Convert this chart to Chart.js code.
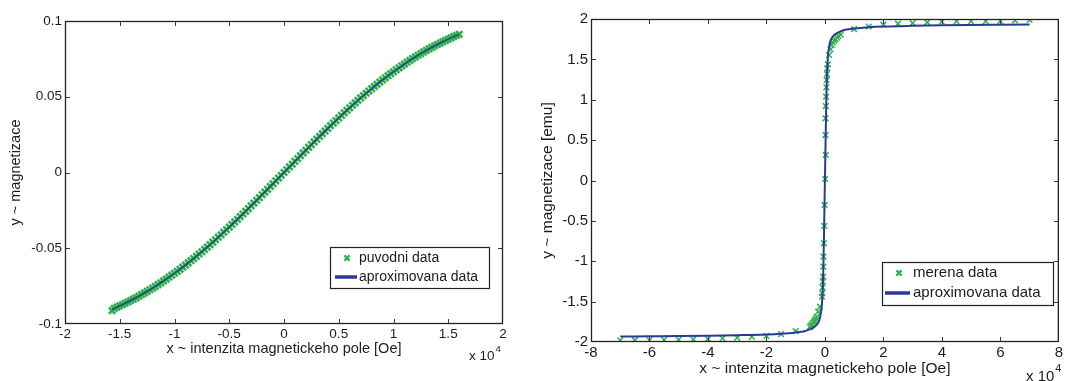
<!DOCTYPE html>
<html>
<head>
<meta charset="utf-8">
<script src="https://cdn.jsdelivr.net/npm/chart.js@4.4.1/dist/chart.umd.min.js"></script>
<style>
  html, body { margin: 0; padding: 0; background: #fff; width: 1065px; height: 381px; overflow: hidden; }
  .panel { position: absolute; top: 0; }
</style>
</head>
<body>
<div class="panel" style="left:0"><canvas id="left" width="530" height="381"></canvas></div>
<div class="panel" style="left:530px"><canvas id="right" width="535" height="381"></canvas></div>
<script>
// ---- left panel: original data and its approximation (field in Oe) ----
const leftFieldOe = [-15700,-15500,-15250,-15000,-14750,-14500,-14250,-14000,-13750,-13500,-13250,-13000,-12750,-12500,-12250,-12000,-11750,-11500,-11250,-11000,-10750,-10500,-10250,-10000,
  -9750,-9500,-9250,-9000,-8750,-8500,-8250,-8000,-7750,-7500,-7250,-7000,-6750,-6500,-6250,-6000,-5750,-5500,-5250,-5000,
  -4750,-4500,-4250,-4000,-3750,-3500,-3250,-3000,-2750,-2500,-2250,-2000,-1750,-1500,-1250,-1000,-750,-500,-250,0,
  250,500,750,1000,1250,1500,1750,2000,2250,2500,2750,3000,3250,3500,3750,4000,4250,4500,4750,5000,
  5250,5500,5750,6000,6250,6500,6750,7000,7250,7500,7750,8000,8250,8500,8750,9000,9250,9500,9750,10000,
  10250,10500,10750,11000,11250,11500,11750,12000,12250,12500,12750,13000,13250,13500,13750,14000,14250,14500,14750,15000,15250,15500,15750,16000];
const leftMag = [-0.0912,-0.0897,-0.0889,-0.0880,-0.0872,-0.0863,-0.0854,-0.0845,-0.0836,-0.0826,-0.0816,-0.0806,-0.0796,-0.0785,-0.0774,-0.0763,-0.0752,-0.0740,-0.0728,-0.0716,-0.0704,-0.0691,-0.0678,-0.0665,
  -0.0652,-0.0639,-0.0625,-0.0611,-0.0597,-0.0582,-0.0568,-0.0553,-0.0538,-0.0523,-0.0508,-0.0492,-0.0476,-0.0460,-0.0444,-0.0427,-0.0411,-0.0394,-0.0377,-0.0360,
  -0.0343,-0.0326,-0.0309,-0.0291,-0.0274,-0.0256,-0.0238,-0.0220,-0.0202,-0.0184,-0.0166,-0.0147,-0.0129,-0.0111,-0.0092,-0.0074,-0.0055,-0.0037,-0.0018,0,
  0.0018,0.0037,0.0055,0.0074,0.0092,0.0111,0.0129,0.0147,0.0166,0.0184,0.0202,0.0220,0.0238,0.0256,0.0274,0.0291,0.0309,0.0326,0.0343,0.0360,
  0.0377,0.0394,0.0411,0.0427,0.0444,0.0460,0.0476,0.0492,0.0508,0.0523,0.0538,0.0553,0.0568,0.0582,0.0597,0.0611,0.0625,0.0639,0.0652,0.0665,
  0.0678,0.0691,0.0704,0.0716,0.0728,0.0740,0.0752,0.0763,0.0774,0.0785,0.0796,0.0806,0.0816,0.0826,0.0836,0.0845,0.0854,0.0863,0.0872,0.0880,0.0889,0.0897,0.0905,0.0912];
const leftFitOe = [-15700,-15000,-14000,-13000,-12000,-11000,-10000,-9000,-8000,-7000,-6000,-5000,-4000,-3000,-2000,-1000,0,
  1000,2000,3000,4000,5000,6000,7000,8000,9000,10000,11000,12000,13000,14000,15000,16000];
const leftFitMag = [-0.0905,-0.0880,-0.0845,-0.0806,-0.0763,-0.0716,-0.0665,-0.0611,-0.0553,-0.0492,-0.0427,-0.0360,-0.0291,-0.0220,-0.0147,-0.0074,0,
  0.0074,0.0147,0.0220,0.0291,0.0360,0.0427,0.0492,0.0553,0.0611,0.0665,0.0716,0.0763,0.0806,0.0845,0.0880,0.0912];
const leftXTicks = { min: -20000, max: 20000, step: 5000 };
const leftYTicks = { min: -0.1, max: 0.1, step: 0.05 };

// ---- right panel: measured hysteresis loop and fitted curve ----
const rightFieldOe = [-70000,-65000,-60000,-55000,-50000,-45000,-40000,-35000,-30000,-25000,-20000,-15000,-10000,
  -5100,-4700,-4400,-4000,-3700,-3400,-3100,-2800,-2300,-1700,-1000,-900,-800,-700,-600,-550,-500,-350,-200,-100,
  100,300,200,200,300,400,500,600,700,800,1000,1400,1900,2300,2700,3200,3600,4200,4600,5400,
  10000,15000,20000,25000,30000,35000,40000,45000,50000,55000,60000,65000,70000];
const rightMag = [-1.979,-1.978,-1.977,-1.972,-1.970,-1.967,-1.963,-1.955,-1.947,-1.938,-1.925,-1.902,-1.866,
  -1.812,-1.795,-1.782,-1.763,-1.745,-1.728,-1.706,-1.686,-1.625,-1.563,-1.439,-1.397,-1.323,-1.253,-1.191,-1.067,-0.943,-0.778,-0.563,-0.303,
  0.019,0.316,0.563,0.770,0.922,1.038,1.154,1.245,1.319,1.389,1.439,1.554,1.625,1.678,1.707,1.731,1.752,1.769,1.790,1.806,
  1.874,1.907,1.930,1.942,1.950,1.959,1.966,1.970,1.971,1.973,1.975,1.982,1.988];
const rightFitOe = [-70000,-60000,-50000,-40000,-30000,-20000,-15000,-10000,-7000,-5000,-4000,-3000,-2000,-1500,-1000,-700,-500,-300,-150,0,
  150,300,500,700,1000,1500,2000,3000,4000,5000,7000,10000,15000,20000,30000,40000,50000,60000,70000];
const rightFitMag = [-1.932,-1.929,-1.926,-1.922,-1.916,-1.907,-1.898,-1.882,-1.866,-1.840,-1.822,-1.795,-1.740,-1.665,-1.520,-1.300,-1.020,-0.640,-0.320,0,
  0.320,0.640,1.020,1.300,1.520,1.665,1.740,1.795,1.822,1.840,1.866,1.882,1.898,1.907,1.916,1.922,1.926,1.929,1.932];
const rightXTicks = { min: -80000, max: 80000, step: 20000 };
const rightYTicks = { min: -2, max: 2, step: 0.5 };

const GREEN = '#2fb24b';
const BLUE = '#2b3a94';
const INK = '#1c1c1c';
const FAMILY = "'Liberation Sans', Arial, Helvetica, sans-serif";

const pts = (xs, ys) => xs.map((v, i) => ({ x: v, y: ys[i] }));
const num = v => String(parseFloat(v.toFixed(4)));

// Box around the plot area with inward tick marks on all four sides.
const framePlugin = {
  id: 'frame',
  afterDatasetsDraw(chart) {
    const { ctx, chartArea: a, scales: { x, y } } = chart;
    const L = 5;
    ctx.save();
    ctx.strokeStyle = '#3a3a3a';
    ctx.lineWidth = 1;
    ctx.beginPath();
    x.ticks.forEach(t => {
      const p = Math.round(x.getPixelForValue(t.value)) + 0.5;
      if (p <= a.left + 2 || p >= a.right - 2) return;
      ctx.moveTo(p, a.bottom); ctx.lineTo(p, a.bottom - L);
      ctx.moveTo(p, a.top); ctx.lineTo(p, a.top + L);
    });
    y.ticks.forEach(t => {
      const p = Math.round(y.getPixelForValue(t.value)) + 0.5;
      if (p <= a.top + 2 || p >= a.bottom - 2) return;
      ctx.moveTo(a.left, p); ctx.lineTo(a.left + L, p);
      ctx.moveTo(a.right, p); ctx.lineTo(a.right - L, p);
    });
    ctx.stroke();
    ctx.strokeStyle = '#222';
    ctx.lineWidth = 1.3;
    ctx.strokeRect(a.left + 0.5, a.top + 0.5, a.right - a.left - 1, a.bottom - a.top - 1);
    ctx.restore();
  },
  afterDraw(chart, args, opts) {
    const { ctx } = chart;
    // axis multiplier "x 10^4"
    const e = opts.exponent;
    if (e) {
      ctx.save();
      ctx.fillStyle = INK;
      ctx.textBaseline = 'middle';
      ctx.textAlign = 'left';
      ctx.font = `${e.size}px ${FAMILY}`;
      ctx.fillText('x 10', e.x, e.y);
      const w = ctx.measureText('x 10').width;
      ctx.font = `${e.size * 0.72}px ${FAMILY}`;
      ctx.fillText('4', e.x + w + 1, e.y - e.size * 0.5);
      ctx.restore();
    }
    // legend box inside the axes
    const lg = opts.legend;
    if (lg) {
      const ds = chart.data.datasets;
      ctx.save();
      ctx.fillStyle = '#fff';
      ctx.fillRect(lg.x, lg.y, lg.w, lg.h);
      ctx.strokeStyle = '#222';
      ctx.lineWidth = 1.2;
      ctx.strokeRect(lg.x + 0.5, lg.y + 0.5, lg.w, lg.h);
      ctx.font = `${lg.size}px ${FAMILY}`;
      ctx.fillStyle = INK;
      ctx.textBaseline = 'middle';
      ctx.textAlign = 'left';
      // marker entry
      const r = 2.6;
      ctx.strokeStyle = GREEN;
      ctx.lineWidth = 2.2;
      ctx.beginPath();
      ctx.moveTo(lg.markX - r, lg.row1 - r); ctx.lineTo(lg.markX + r, lg.row1 + r);
      ctx.moveTo(lg.markX + r, lg.row1 - r); ctx.lineTo(lg.markX - r, lg.row1 + r);
      ctx.stroke();
      ctx.fillText(ds[1].label, lg.textX, lg.row1);
      // line entry
      ctx.strokeStyle = BLUE;
      ctx.lineWidth = 3.5;
      ctx.beginPath();
      ctx.moveTo(lg.lineX0, lg.row2); ctx.lineTo(lg.lineX1, lg.row2);
      ctx.stroke();
      ctx.fillText(ds[0].label, lg.textX, lg.row2);
      ctx.restore();
    }
  }
};

function makeChart(id, cfg) {
  return new Chart(document.getElementById(id), {
    type: 'scatter',
    data: {
      datasets: [
        {
          label: 'aproximovana data',
          data: pts(cfg.fitX, cfg.fitY),
          showLine: true,
          pointRadius: 0,
          borderColor: BLUE,
          borderWidth: cfg.lineWidth,
          cubicInterpolationMode: 'monotone',
          order: 0
        },
        {
          label: cfg.markLabel,
          data: pts(cfg.measX, cfg.measY),
          showLine: false,
          pointStyle: 'crossRot',
          pointRadius: cfg.markR,
          pointBorderWidth: cfg.markW,
          borderColor: GREEN,
          backgroundColor: GREEN,
          order: 1
        }
      ]
    },
    options: {
      responsive: false,
      animation: false,
      devicePixelRatio: 1,
      layout: { padding: cfg.pad },
      plugins: {
        legend: { display: false },
        tooltip: { enabled: false },
        frame: { exponent: cfg.exponent, legend: cfg.legend }
      },
      scales: {
        x: {
          type: 'linear',
          min: cfg.xt.min, max: cfg.xt.max,
          afterFit: s => { s.height = cfg.xAxisH; },
          grid: { display: false, drawTicks: false },
          border: { display: false },
          ticks: {
            stepSize: cfg.xt.step, padding: 2, color: INK,
            font: { family: FAMILY, size: cfg.tickSize },
            maxRotation: 0, autoSkip: false,
            callback: v => num(v / 1e4)
          },
          title: {
            display: true, text: 'x ~ intenzita magnetickeho pole [Oe]', color: INK,
            font: { family: FAMILY, size: cfg.titleSize },
            padding: { top: 0, bottom: cfg.xTitlePad }
          }
        },
        y: {
          type: 'linear',
          min: cfg.yt.min, max: cfg.yt.max,
          afterFit: s => { s.width = cfg.yAxisW; },
          grid: { display: false, drawTicks: false },
          border: { display: false },
          ticks: {
            stepSize: cfg.yt.step, padding: 3, color: INK,
            font: { family: FAMILY, size: cfg.tickSize },
            autoSkip: false,
            callback: v => num(v)
          },
          title: {
            display: true, text: cfg.yTitle, color: INK,
            font: { family: FAMILY, size: cfg.titleSize },
            padding: { top: cfg.yTitlePad, bottom: 0 }
          }
        }
      }
    },
    plugins: [framePlugin]
  });
}

makeChart('left', {
  fitX: leftFitOe, fitY: leftFitMag, measX: leftFieldOe, measY: leftMag,
  markLabel: 'puvodni data', lineWidth: 1.5, markR: 4.5, markW: 2.6,
  pad: { top: 21, right: 27, left: 0, bottom: 0 },
  xAxisH: 57, yAxisW: 65, xt: leftXTicks, yt: leftYTicks,
  tickSize: 13.5, titleSize: 14.5, xTitlePad: 23.5, yTitlePad: 7,
  yTitle: 'y ~ magnetizace',
  exponent: { x: 469, y: 356, size: 13.5 },
  legend: { x: 330, y: 247, w: 159, h: 41, size: 14, row1: 258, row2: 277, markX: 347, lineX0: 335, lineX1: 357, textX: 359 }
});

makeChart('right', {
  fitX: rightFitOe, fitY: rightFitMag, measX: rightFieldOe, measY: rightMag,
  markLabel: 'merena data', lineWidth: 2, markR: 4, markW: 1.5,
  pad: { top: 19, right: 4, left: 0, bottom: 0 },
  xAxisH: 39, yAxisW: 61, xt: rightXTicks, yt: rightYTicks,
  tickSize: 15, titleSize: 15.5, xTitlePad: 3, yTitlePad: 8,
  yTitle: 'y ~ magnetizace [emu]',
  exponent: { x: 496, y: 377, size: 15 },
  legend: { x: 352, y: 262, w: 171, h: 43, size: 15, row1: 273, row2: 293, markX: 369, lineX0: 355, lineX1: 380, textX: 383 }
});
</script>
</body>
</html>
